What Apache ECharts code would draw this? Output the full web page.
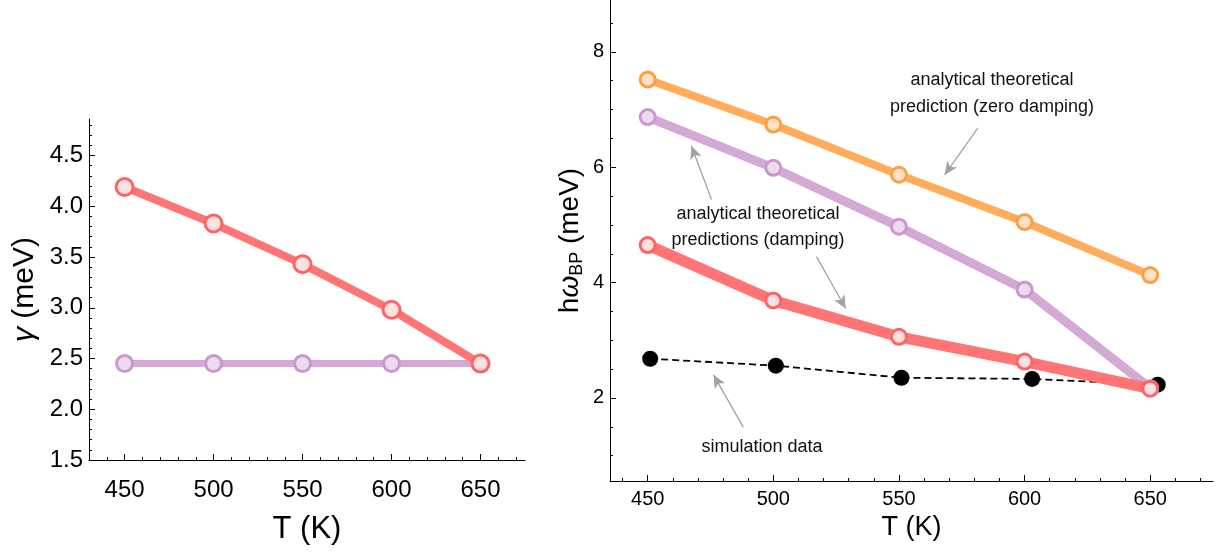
<!DOCTYPE html>
<html><head><meta charset="utf-8">
<script src="https://cdn.jsdelivr.net/npm/echarts@6/dist/echarts.min.js"></script>
<style>html,body{margin:0;padding:0;background:#fff}#c{width:1221px;height:554px}</style>
</head><body><div id="c"></div>
<script>
// ---------- data ----------
const temperatures = [450, 500, 550, 600, 650];
// left panel: damping gamma (meV)
const gammaVarying = [4.19, 3.83, 3.43, 2.98, 2.45];
const gammaConstant = [2.45, 2.45, 2.45, 2.45, 2.45];
// right panel: h*omega_BP (meV)
const omegaZeroDamping = [7.52, 6.74, 5.87, 5.05, 4.13];
const omegaConstDamping = [6.87, 5.99, 4.97, 3.88, 2.17];
const omegaVaryDamping = [4.65, 3.69, 3.06, 2.63, 2.16];
const simTemperatures = [451, 501, 551, 603, 653];
const simOmega = [2.68, 2.56, 2.35, 2.33, 2.23];
// tick labels
const xTickLabels = [450, 500, 550, 600, 650];
const gammaTickLabels = [1.5, 2.0, 2.5, 3.0, 3.5, 4.0, 4.5];
const omegaTickLabels = [2, 4, 6, 8];

const FONT = '"Liberation Sans", Arial, sans-serif';
const zip = (xs, ys) => xs.map((x, i) => [x, ys[i]]);
function minorTicks(start, end, step, majors) {
  const out = [];
  const n = Math.round((end - start) / step);
  for (let i = 0; i <= n; i++) {
    const v = Math.round((start + i * step) * 1000) / 1000;
    if (!majors.some(m => Math.abs(m - v) < 1e-6)) out.push(v);
  }
  return out;
}

function majorAxis(o) {
  return {
    type: 'value', gridIndex: o.grid, min: o.min, max: o.max,
    position: o.isY ? 'left' : 'bottom',
    axisLine: { show: true, onZero: false, lineStyle: { color: '#000', width: 1 } },
    axisTick: { show: true, inside: true, length: 6, lineStyle: { color: '#000', width: 1 }, customValues: o.ticks },
    axisLabel: { show: true, customValues: o.ticks, formatter: o.fmt, fontSize: o.fontSize, color: '#000', margin: o.margin, fontFamily: FONT },
    splitLine: { show: false }, minorTick: { show: false },
    name: o.name, nameLocation: 'middle', nameGap: o.nameGap, nameRotate: o.isY ? 90 : 0,
    nameTextStyle: o.nameStyle
  };
}
function minorAxis(o) {
  return {
    type: 'value', gridIndex: o.grid, min: o.min, max: o.max,
    position: o.isY ? 'left' : 'bottom',
    axisLine: { show: false },
    axisTick: { show: true, inside: true, length: 3, lineStyle: { color: '#000', width: 1 }, customValues: o.ticks },
    axisLabel: { show: false }, splitLine: { show: false }
  };
}

const L = { xmin: 430, xmax: 675, ymin: 1.5, ymax: 4.86 };
const R = { xmin: 435, xmax: 675, ymin: 0.56, ymax: 8.9 };

const chart = echarts.init(document.getElementById('c'), null, { renderer: 'canvas' });

const option = {
  animation: false,
  backgroundColor: '#fff',
  grid: [
    { left: 89, top: 119, width: 436, height: 341 },
    { left: 610, top: 0, width: 603, height: 481 }
  ],
  xAxis: [
    majorAxis({ grid: 0, min: L.xmin, max: L.xmax, ticks: xTickLabels, fmt: v => String(v), fontSize: 24, margin: 18,
      name: 'T (K)', nameGap: 54, nameStyle: { fontSize: 31, color: '#000', fontFamily: FONT } }),
    majorAxis({ grid: 1, min: R.xmin, max: R.xmax, ticks: xTickLabels, fmt: v => String(v), fontSize: 20, margin: 8,
      name: 'T (K)', nameGap: 32, nameStyle: { fontSize: 27, color: '#000', fontFamily: FONT } }),
    minorAxis({ grid: 0, min: L.xmin, max: L.xmax, ticks: minorTicks(440, 670, 10, xTickLabels) }),
    minorAxis({ grid: 1, min: R.xmin, max: R.xmax, ticks: minorTicks(440, 670, 10, xTickLabels) })
  ],
  yAxis: [
    majorAxis({ grid: 0, isY: true, min: L.ymin, max: L.ymax, ticks: gammaTickLabels, fmt: v => v.toFixed(1), fontSize: 24, margin: 6,
      name: '{i|γ} (meV)', nameGap: 49,
      nameStyle: { fontSize: 30, color: '#000', fontFamily: FONT, rich: { i: { fontSize: 30, fontStyle: 'italic', fontFamily: FONT, color: '#000' } } } }),
    majorAxis({ grid: 1, isY: true, min: R.ymin, max: R.ymax, ticks: omegaTickLabels, fmt: v => String(v), fontSize: 20, margin: 6,
      name: '{n|h}{w|ω}{s|BP}{n| (meV)}', nameGap: 24,
      nameStyle: { fontSize: 28, color: '#000', fontFamily: FONT,
        rich: {
          n: { fontSize: 28, fontFamily: FONT, color: '#000', lineHeight: 32 },
          w: { fontSize: 28, fontFamily: FONT, fontStyle: 'italic', color: '#000', lineHeight: 32 },
          s: { fontSize: 18, fontFamily: FONT, color: '#000', verticalAlign: 'bottom', lineHeight: 18 }
        } } }),
    minorAxis({ grid: 0, isY: true, min: L.ymin, max: L.ymax, ticks: minorTicks(1.6, 4.8, 0.1, gammaTickLabels) }),
    minorAxis({ grid: 1, isY: true, min: R.ymin, max: R.ymax, ticks: minorTicks(1.0, 8.5, 0.5, omegaTickLabels) })
  ],
  series: [
    {
      type: 'line', xAxisIndex: 0, yAxisIndex: 0, z: 2,
      data: zip(temperatures, gammaConstant),
      lineStyle: { color: '#d4a9d6', width: 7 },
      symbol: 'circle', symbolSize: 16,
      itemStyle: { color: '#ecdbee', borderColor: '#c998cd', borderWidth: 3 }
    },
    {
      type: 'line', xAxisIndex: 0, yAxisIndex: 0, z: 3,
      data: zip(temperatures, gammaVarying),
      lineStyle: { color: '#ff7575', width: 8 },
      symbol: 'circle', symbolSize: 17,
      itemStyle: { color: '#fde0e0', borderColor: '#ff6464', borderWidth: 3 }
    },
    {
      type: 'line', xAxisIndex: 1, yAxisIndex: 1, z: 1,
      data: zip(simTemperatures, simOmega),
      lineStyle: { color: '#000', width: 1.8, type: [7, 4] },
      symbol: 'circle', symbolSize: 16,
      itemStyle: { color: '#000' }
    },
    {
      type: 'line', xAxisIndex: 1, yAxisIndex: 1, z: 2,
      data: zip(temperatures, omegaZeroDamping),
      lineStyle: { color: '#ffad5c', width: 8 },
      symbol: 'circle', symbolSize: 15,
      itemStyle: { color: '#fde1c9', borderColor: '#ff9f40', borderWidth: 3 }
    },
    {
      type: 'line', xAxisIndex: 1, yAxisIndex: 1, z: 3,
      data: zip(temperatures, omegaConstDamping),
      lineStyle: { color: '#d4a9d6', width: 9 },
      symbol: 'circle', symbolSize: 15,
      itemStyle: { color: '#ecdbee', borderColor: '#c998cd', borderWidth: 3 }
    },
    {
      type: 'line', xAxisIndex: 1, yAxisIndex: 1, z: 4,
      data: zip(temperatures, omegaVaryDamping),
      lineStyle: { color: '#ff7575', width: 11 },
      symbol: 'circle', symbolSize: 15,
      itemStyle: { color: '#fde0e0', borderColor: '#ff6464', borderWidth: 3 }
    },
    {
      type: 'line', xAxisIndex: 1, yAxisIndex: 1, z: 5, data: [],
      markLine: {
        silent: true, animation: false,
        symbol: ['none', 'arrow'], symbolSize: [9, 13],
        lineStyle: { color: '#a3a3a3', width: 1.3, type: 'solid' },
        label: { show: false },
        data: [
          [{ coord: [581.4, 6.68] }, { coord: [568.2, 5.87] }],
          [{ coord: [475.4, 5.44] }, { coord: [467.4, 6.37] }],
          [{ coord: [517.2, 4.45] }, { coord: [528.8, 3.55] }],
          [{ coord: [488.1, 1.49] }, { coord: [476.2, 2.40] }]
        ]
      }
    }
  ],
  graphic: [
    { type: 'text', z: 10, style: { x: 992, y: 94, text: 'analytical theoretical\nprediction (zero damping)', align: 'center', verticalAlign: 'middle', fontSize: 18, lineHeight: 27, fontFamily: FONT, fill: '#111' } },
    { type: 'text', z: 10, style: { x: 758, y: 227, text: 'analytical theoretical\npredictions (damping)', align: 'center', verticalAlign: 'middle', fontSize: 18, lineHeight: 26, fontFamily: FONT, fill: '#111' } },
    { type: 'text', z: 10, style: { x: 762, y: 447, text: 'simulation data', align: 'center', verticalAlign: 'middle', fontSize: 18, fontFamily: FONT, fill: '#111' } }
  ]
};
chart.setOption(option);
</script>
</body></html>
